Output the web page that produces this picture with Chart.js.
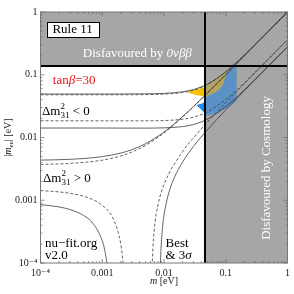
<!DOCTYPE html>
<html>
<head>
<meta charset="utf-8">
<script src="https://cdn.jsdelivr.net/npm/chart.js@4.4.1/dist/chart.umd.min.js"></script>
<style>
  html, body { margin: 0; padding: 0; background: #fff; }
  #wrap { width: 294px; height: 294px; }
</style>
</head>
<body>
<div id="wrap"><canvas id="chart" width="294" height="294"></canvas></div>
<script>
'use strict';

// ── Data (lightest mass m [eV] vs |m_ee| [eV]) ────────────────
const tickValues = [1e-4, 0.001, 0.01, 0.1, 1];
const tickLabels = ['10\u207B\u2074', '0.001', '0.01', '0.1', '1'];

const cosmoLimit = 0.0461;   // vertical bound
const onubbLimit = 0.138;    // horizontal bound

const mLight      = [1e-4, 3e-4, 0.001, 0.002, 0.003, 0.005, 0.01, 0.02, 0.03, 0.05, 0.1, 0.2, 0.5, 1];
const ihUpperBest = [0.04789, 0.04789, 0.04790, 0.04797, 0.04804, 0.04824, 0.04909, 0.05216, 0.05682, 0.06954, 0.1111, 0.2058, 0.5023, 1.0012];
const ihUpper3s   = [0.04931, 0.04931, 0.04933, 0.04937, 0.04945, 0.04967, 0.05051, 0.05352, 0.05808, 0.07059, 0.1118, 0.2061, 0.5025, 1.0013];
const ihLowerBest = [0.01846, 0.01845, 0.01844, 0.01843, 0.01843, 0.01845, 0.01863, 0.01955, 0.02109, 0.02552, 0.04037, 0.07451, 0.1817, 0.3620];
const ihLower3s   = [0.01416, 0.01416, 0.01415, 0.01413, 0.01412, 0.01412, 0.01424, 0.01492, 0.01610, 0.01953, 0.03106, 0.05747, 0.1403, 0.2795];
const nhUpperBest = [0.003724, 0.003861, 0.004354, 0.005085, 0.00585, 0.007464, 0.011843, 0.021259, 0.030968, 0.050656, 0.10034, 0.20015, 0.49998, 0.99983];
const nhUpper3s   = [0.004363, 0.004492, 0.004957, 0.005652, 0.006383, 0.007938, 0.012212, 0.021521, 0.031176, 0.05081, 0.10044, 0.20023, 0.50009, 1.0];

const nhLowBestLeftM  = [1e-4, 2e-4, 3e-4, 5e-4, 7e-4, 0.001, 0.0015, 0.002, 0.0021, 0.0022, 0.0023];
const nhLowBestLeft   = [0.001426, 0.001358, 0.001291, 0.001158, 0.001026, 0.00083, 0.000511, 0.000199, 0.000138, 0.000076, 0.0000164];
const nhLowBestRightM = [0.0063, 0.0064, 0.0065, 0.007, 0.008, 0.01, 0.02, 0.03, 0.05, 0.1, 0.2, 0.5, 1];
const nhLowBestRight  = [0.000014, 0.000065, 0.000115, 0.000362, 0.000846, 0.001771, 0.005969, 0.009874, 0.017414, 0.035796, 0.072132, 0.1807, 0.3616];
const nhLow3sLeftM    = [1e-4, 2e-4, 3e-4, 5e-4, 7e-4, 0.001, 0.0011, 0.0012, 0.00125, 0.0013];
const nhLow3sLeft     = [0.000854, 0.000782, 0.000711, 0.000571, 0.000433, 0.000227, 0.000159, 0.000092, 0.000058, 0.000025];
const nhLow3sRightM   = [0.0085, 0.0088, 0.009, 0.0095, 0.01, 0.012, 0.015, 0.02, 0.03, 0.05, 0.1, 0.2, 0.5, 1];
const nhLow3sRight    = [0.00001, 0.000108, 0.000187, 0.000383, 0.000578, 0.001327, 0.002391, 0.004059, 0.007194, 0.01314, 0.027456, 0.055571, 0.13941, 0.27896];

// tanβ=30 regions (outline), split at the cosmology bound
const yellowInM   = [0.0235, 0.0331, 0.0461, 0.0461, 0.0331];
const yellowInY   = [0.0526, 0.0582, 0.0638, 0.0450, 0.0476];
const yellowOutM  = [0.0461, 0.0643, 0.0929, 0.1343, 0.150, 0.150, 0.0461];
const yellowOutY  = [0.0638, 0.0780, 0.1047, 0.1404, 0.148, 0.0447, 0.0447];
const blueInM     = [0.0335, 0.0398, 0.0461, 0.0461, 0.0398];
const blueInY     = [0.0330, 0.0345, 0.0368, 0.0246, 0.0280];
const blueOutM    = [0.0461, 0.0597, 0.0764, 0.0918, 0.100, 0.1202, 0.150, 0.150, 0.0975, 0.0675, 0.0461];
const blueOutY    = [0.0447, 0.0493, 0.0557, 0.0712, 0.0991, 0.1280, 0.1483, 0.0386, 0.0285, 0.0237, 0.0223];

// ── Helpers ───────────────────────────────────────────────────
const SERIF = '"Liberation Serif", "DejaVu Serif", serif';
const pts = (xs, ys) => xs.map((x, i) => ({ x, y: ys[i] }));

const curve = (xs, ys, dashed) => ({
  data: pts(xs, ys),
  borderColor: '#3c3c3c',
  borderWidth: 0.8,
  borderDash: dashed ? [3, 2] : [],
  cubicInterpolationMode: 'monotone',
  pointRadius: 0,
  showLine: true,
  fill: false,
  order: 3,
});

const region = (xs, ys, color, order) => ({
  data: pts(xs, ys),
  backgroundColor: color,
  borderColor: 'transparent',
  borderWidth: 0,
  pointRadius: 0,
  showLine: true,
  tension: 0,
  fill: 'shape',
  order,
});

// draws a list of [text, font, dy, noAdvance] pieces
function rich(ctx, parts, x, y, align) {
  let w = 0;
  parts.forEach(p => { ctx.font = p[1]; if (!p[3]) w += ctx.measureText(p[0]).width; });
  let cx = align === 'center' ? x - w / 2 : x;
  parts.forEach(p => {
    ctx.font = p[1];
    ctx.fillText(p[0], cx, y + (p[2] || 0));
    if (!p[3]) cx += ctx.measureText(p[0]).width;
  });
}

const f = (size, style) => (style ? style + ' ' : '') + size + 'px ' + SERIF;

// ── Decorations: frame, inward ticks, labels ──────────────────
const decorPlugin = {
  id: 'decor',
  afterDatasetsDraw(chart) {
    const { ctx, chartArea: a, scales: { x, y } } = chart;
    ctx.save();

    // inward ticks on all four sides
    ctx.strokeStyle = '#666';
    ctx.lineWidth = 0.7;
    ctx.beginPath();
    for (let d = -4; d <= 0; d++) {
      for (let k = 1; k <= 9; k++) {
        const v = k * Math.pow(10, d);
        if (v > 1.0001) break;
        const len = k === 1 ? 4 : 2;
        const px = x.getPixelForValue(v), py = y.getPixelForValue(v);
        ctx.moveTo(px, a.bottom); ctx.lineTo(px, a.bottom - len);
        ctx.moveTo(px, a.top);    ctx.lineTo(px, a.top + len);
        ctx.moveTo(a.left, py);   ctx.lineTo(a.left + len, py);
        ctx.moveTo(a.right, py);  ctx.lineTo(a.right - len, py);
      }
    }
    ctx.stroke();
    ctx.strokeStyle = '#777';
    ctx.lineWidth = 1;
    ctx.strokeRect(a.left, a.top, a.right - a.left, a.bottom - a.top);

    const P = (m, v) => [x.getPixelForValue(m), y.getPixelForValue(v)];
    ctx.textBaseline = 'middle';

    // Rule box
    const [bx0, by0] = P(1.27e-4, 0.693);
    const [bx1, by1] = P(8.97e-4, 0.3996);
    ctx.fillStyle = '#fff';
    ctx.fillRect(bx0, by0, bx1 - bx0, by1 - by0);
    ctx.strokeStyle = '#000';
    ctx.lineWidth = 1;
    ctx.strokeRect(Math.round(bx0) + 0.5, Math.round(by0) + 0.5, Math.round(bx1 - bx0), Math.round(by1 - by0));
    ctx.fillStyle = '#000';
    let [tx, ty] = P(3.31e-4, 0.516);
    rich(ctx, [['Rule 11', f(13)]], tx, ty, 'center');

    ctx.fillStyle = '#fff';
    [tx, ty] = P(0.0037, 0.2141);
    rich(ctx, [['Disfavoured by ', f(13)], ['0\u03BD\u03B2\u03B2', f(13, 'italic')]], tx, ty, 'center');

    ctx.fillStyle = '#e8141c';
    [tx, ty] = P(1.585e-4, 0.0795);
    rich(ctx, [['tan', f(13)], ['\u03B2', f(13, 'italic')], ['=30', f(13)]], tx, ty);

    ctx.fillStyle = '#000';
    [tx, ty] = P(1.057e-4, 0.0255);
    rich(ctx, [['\u0394m', f(13)], ['2', f(9), -5, true], ['31', f(9), 4], [' < 0', f(13)]], tx, ty);
    [tx, ty] = P(1.096e-4, 0.00218);
    rich(ctx, [['\u0394m', f(13)], ['2', f(9), -5, true], ['31', f(9), 4], [' > 0', f(13)]], tx, ty);

    [tx, ty] = P(1.18e-4, 2.01e-4);
    rich(ctx, [['nu\u2212fit.org', f(13)]], tx, ty);
    [tx, ty] = P(1.18e-4, 1.29e-4);
    rich(ctx, [['v2.0', f(13)]], tx, ty);
    [tx, ty] = P(0.01057, 2.01e-4);
    rich(ctx, [['Best', f(13)]], tx, ty);
    [tx, ty] = P(0.01057, 1.29e-4);
    rich(ctx, [['& 3', f(13)], ['\u03C3', f(13, 'italic')]], tx, ty);

    // rotated cosmology label
    [tx, ty] = P(0.453, 0.00327);
    ctx.save();
    ctx.translate(tx, ty);
    ctx.rotate(-Math.PI / 2);
    ctx.fillStyle = '#fff';
    rich(ctx, [['Disfavoured by Cosmology', f(13)]], 0, 0, 'center');
    ctx.restore();

    // axis titles
    ctx.fillStyle = '#222';
    rich(ctx, [['m', f(10, 'italic')], [' [eV]', f(10)]], (a.left + a.right) / 2, a.bottom + 18, 'center');
    ctx.save();
    ctx.translate(a.left - 32, (a.top + a.bottom) / 2);
    ctx.rotate(-Math.PI / 2);
    rich(ctx, [['|', f(10)], ['m', f(10, 'italic')], ['ee', f(7), 3], ['| [eV]', f(10)]], 0, 0, 'center');
    ctx.restore();

    ctx.restore();
  }
};

// ── Chart ─────────────────────────────────────────────────────
const logAxis = (extra) => ({
  type: 'logarithmic',
  min: 1e-4,
  max: 1,
  grid: { display: false, drawTicks: false },
  border: { display: false },
  afterBuildTicks: (s) => { s.ticks = tickValues.map(v => ({ value: v })); },
  ticks: {
    autoSkip: false,
    maxRotation: 0,
    color: '#222',
    font: { family: SERIF, size: 10 },
    callback: (v) => tickLabels[tickValues.indexOf(v)] ?? '',
    ...extra.ticks,
  },
  afterFit: extra.afterFit,
});

new Chart(document.getElementById('chart'), {
  type: 'scatter',
  data: {
    datasets: [
      // disfavoured regions
      region([1e-4, cosmoLimit, cosmoLimit, 1, 1, 1e-4], [onubbLimit, onubbLimit, 1e-4, 1e-4, 1, 1], '#a6a6a6', 20),
      // tanβ = 30 predictions
      region(yellowInM, yellowInY, '#f6c000', 12),
      region(yellowOutM, yellowOutY, '#b5a45e', 12),
      region(blueInM, blueInY, '#1c8ceb', 10),
      region(blueOutM, blueOutY, '#5a91c6', 10),
      // effective mass bands (solid: 3σ, dashed: best fit)
      curve(mLight, ihUpper3s, false),
      curve(mLight, ihUpperBest, true),
      curve(mLight, ihLower3s, false),
      curve(mLight, ihLowerBest, true),
      curve(mLight, nhUpper3s, false),
      curve(mLight, nhUpperBest, true),
      curve(nhLow3sLeftM, nhLow3sLeft, false),
      curve(nhLow3sRightM, nhLow3sRight, false),
      curve(nhLowBestLeftM, nhLowBestLeft, true),
      curve(nhLowBestRightM, nhLowBestRight, true),
      // bounds
      { data: [{ x: 1e-4, y: onubbLimit }, { x: 1, y: onubbLimit }], borderColor: '#000', borderWidth: 2, pointRadius: 0, showLine: true, order: 1 },
      { data: [{ x: cosmoLimit, y: 1e-4 }, { x: cosmoLimit, y: 1 }], borderColor: '#000', borderWidth: 2, pointRadius: 0, showLine: true, order: 1 },
    ]
  },
  options: {
    responsive: false,
    animation: false,
    events: [],
    layout: { padding: { top: 12, right: 3.5, left: 0, bottom: 0 } },
    plugins: { legend: { display: false }, tooltip: { enabled: false } },
    scales: {
      x: logAxis({ ticks: { padding: 4 }, afterFit: (s) => { s.height = 31; } }),
      y: logAxis({ ticks: { padding: 3 }, afterFit: (s) => { s.width = 40.5; } }),
    }
  },
  plugins: [decorPlugin]
});
</script>
</body>
</html>
